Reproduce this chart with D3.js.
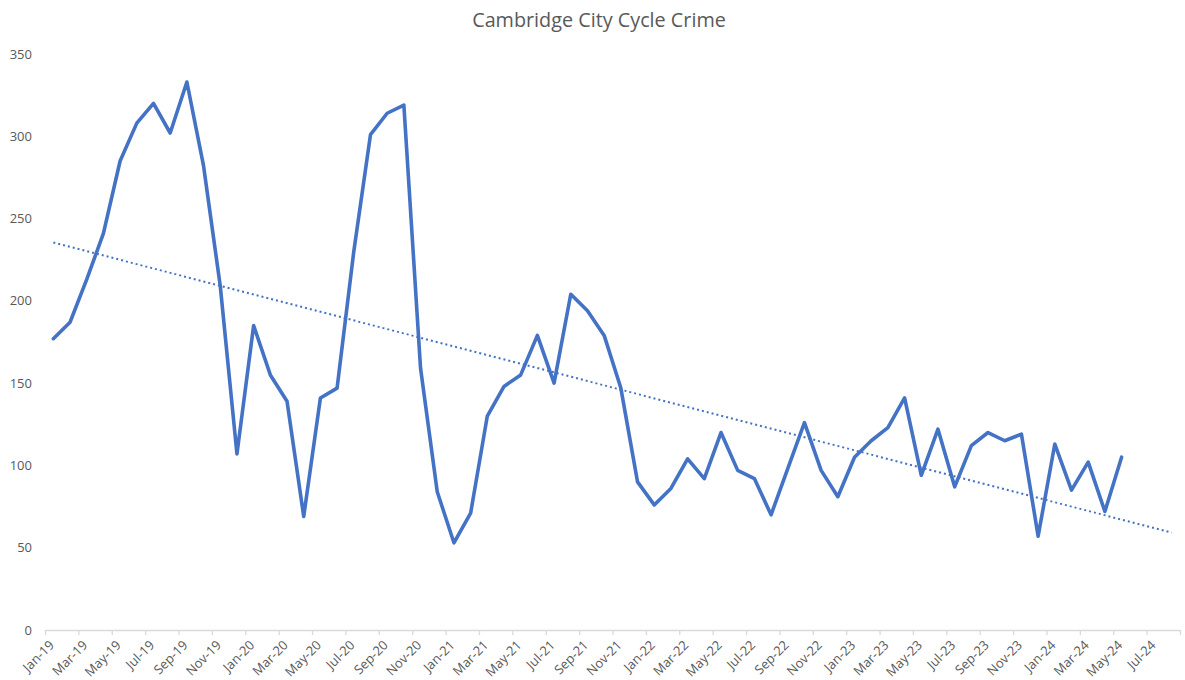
<!DOCTYPE html>
<html><head><meta charset="utf-8">
<script src="https://cdn.jsdelivr.net/npm/d3@7"></script>
<style>
body{margin:0;background:#fff;}
svg{display:block;font-family:"Open Sans","Noto Sans",sans-serif;}
</style></head>
<body><svg id="c" width="1185" height="680"></svg>
<script>
const title = "Cambridge City Cycle Crime";
const months = ["Jan-19","Feb-19","Mar-19","Apr-19","May-19","Jun-19","Jul-19","Aug-19","Sep-19","Oct-19","Nov-19","Dec-19",
"Jan-20","Feb-20","Mar-20","Apr-20","May-20","Jun-20","Jul-20","Aug-20","Sep-20","Oct-20","Nov-20","Dec-20",
"Jan-21","Feb-21","Mar-21","Apr-21","May-21","Jun-21","Jul-21","Aug-21","Sep-21","Oct-21","Nov-21","Dec-21",
"Jan-22","Feb-22","Mar-22","Apr-22","May-22","Jun-22","Jul-22","Aug-22","Sep-22","Oct-22","Nov-22","Dec-22",
"Jan-23","Feb-23","Mar-23","Apr-23","May-23","Jun-23","Jul-23","Aug-23","Sep-23","Oct-23","Nov-23","Dec-23",
"Jan-24","Feb-24","Mar-24","Apr-24","May-24","Jun-24","Jul-24","Aug-24"];
const values = [177,187,213,241,285,308,320,302,333,282,209,107,
185,155,139,69,141,147,230,301,314,319,159,84,
53,71,130,148,155,179,150,204,194,179,147,90,
76,86,104,92,120,97,92,70,98,126,97,81,
105,115,123,141,94,122,87,112,120,115,119,57,
113,85,102,72,105];
const xTickLabels = ["Jan-19","Mar-19","May-19","Jul-19","Sep-19","Nov-19","Jan-20","Mar-20","May-20","Jul-20","Sep-20","Nov-20",
"Jan-21","Mar-21","May-21","Jul-21","Sep-21","Nov-21","Jan-22","Mar-22","May-22","Jul-22","Sep-22","Nov-22",
"Jan-23","Mar-23","May-23","Jul-23","Sep-23","Nov-23","Jan-24","Mar-24","May-24","Jul-24"];
const yTicks = [0,50,100,150,200,250,300,350];
const forecastForward = 3;

const svg = d3.select("#c");
const mLeft = 45, mRight = 1180, mTop = 54, mBottom = 630;
const x = d3.scaleLinear().domain([0, months.length]).range([mLeft, mRight]);
const y = d3.scaleLinear().domain([0, 350]).range([mBottom, mTop]);
const textCol = "#595959";

svg.append("text").attr("x", 599).attr("y", 27).attr("text-anchor","middle")
  .attr("fill", textCol).style("font-size","19.8px").text(title);

// y axis labels
svg.append("g").selectAll("text").data(yTicks).join("text")
  .attr("x", 32).attr("y", d => y(d) + 4.5).attr("text-anchor","end")
  .attr("fill", textCol).style("font-size","13px").text(d => d);

// x axis
const tickIdx = xTickLabels.map(l => months.indexOf(l));
const xAxis = d3.axisBottom(x).tickValues(tickIdx.concat([months.length])).tickSize(5).tickFormat(() => "");
const gx = svg.append("g").attr("transform", `translate(0,${mBottom})`).call(xAxis);
gx.select(".domain").attr("stroke","#d9d9d9").attr("stroke-width",1.3).attr("d", `M${mLeft},0.5H${mRight}`);
gx.selectAll(".tick line").attr("stroke","#d9d9d9").attr("stroke-width",1.3);
svg.append("g").selectAll("text").data(tickIdx).join("text")
  .attr("text-anchor","end")
  .attr("transform", d => `translate(${x(d)+10},${mBottom+16}) rotate(-45)`)
  .attr("fill", textCol).style("font-size","13px")
  .text((d,i) => xTickLabels[i]);

// trendline (least squares)
const n = values.length;
const xs = d3.range(n);
const mx = d3.mean(xs), my = d3.mean(values);
const slope = d3.sum(xs, i => (i-mx)*(values[i]-my)) / d3.sum(xs, i => (i-mx)*(i-mx));
const inter = my - slope*mx;
const tEnd = n - 1 + forecastForward;
svg.append("line")
  .attr("x1", x(0.5)).attr("y1", y(inter))
  .attr("x2", x(tEnd+0.5)).attr("y2", y(inter + slope*tEnd))
  .attr("stroke","#4472C4").attr("stroke-width",2)
  .attr("stroke-dasharray","2,3");

// data line
const line = d3.line().x((d,i) => x(i+0.5)).y(d => y(d));
svg.append("path").datum(values).attr("d", line)
  .attr("fill","none").attr("stroke","#4472C4").attr("stroke-width",3.6)
  .attr("stroke-linejoin","round").attr("stroke-linecap","round");
</script></body></html>
